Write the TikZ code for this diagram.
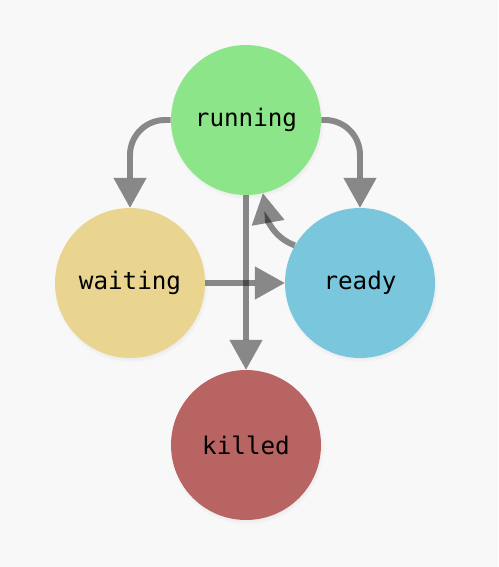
\documentclass[tikz,border=0pt]{standalone}
\usepackage{fontspec}
\setmonofont{DejaVu Sans Mono}
\usepackage{tikz}
\usetikzlibrary{positioning}
\usetikzlibrary{arrows.meta}
\usetikzlibrary{shadows}

\definecolor{sfondo}{HTML}{F8F8F8}
\definecolor{colrun}{HTML}{8DE58A}
\definecolor{colwait}{HTML}{E9D590}
\definecolor{colready}{HTML}{7AC7DD}
\definecolor{colkill}{HTML}{B76462}

\tikzset{
    stato/.style={circle, minimum size=3cm, inner sep=0pt,
        font=\ttfamily\fontsize{13.8}{16}\selectfont,
        circular drop shadow={shadow xshift=0.4pt, shadow yshift=-1.2pt,
            shadow scale=1.03, opacity=0.22}},
    freccia/.style={line width=3.4pt, draw=black, opacity=0.45,
        -{Triangle[length=17pt, width=19pt, line width=0pt]}},
}

\begin{document}
\begin{tikzpicture}[x=0.02cm, y=-0.02cm]
    % sfondo
    \fill[sfondo] (0, 0) rectangle (498, 567);
    \useasboundingbox (0, 0) rectangle (498, 567);

    % stati
    \node[stato, fill=colrun] (running) at (246, 120) {running};
    \node[stato, fill=colwait] (waiting) at (130, 283) {waiting};
    \node[stato, fill=colready] (ready) at (360, 283) {ready};
    \node[stato, fill=colkill] (killed) at (246, 445) {killed};

    % frecce
    \draw[freccia, rounded corners=0.7cm] (running.west) -| (waiting.north);
    \draw[freccia, rounded corners=0.7cm] (running.east) -| (ready.north);
    \draw[freccia] (ready.150) to[out=160, in=-80] (running.-77);
    \draw[freccia] (waiting) -- (ready);
    \draw[freccia] (running) -- (killed);
\end{tikzpicture}
\end{document}
